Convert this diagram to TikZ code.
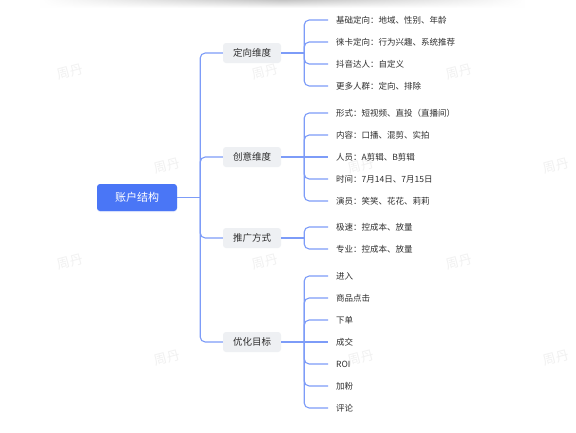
\documentclass[tikz,border=0pt]{standalone}
\usepackage{fontspec}
\newfontfamily\cjk{Noto Sans CJK SC}
\usetikzlibrary{shadows,fadings}
\definecolor{rootblue}{HTML}{4A76F6}
\definecolor{linkblue}{HTML}{7D9CF8}
\definecolor{boxgray}{HTML}{EEF0F3}
\definecolor{txt}{HTML}{2E2E2E}
\definecolor{wmgray}{HTML}{F1F1F1}
\tikzfading[name=fadelr, left color=transparent!100, right color=transparent!100, middle color=transparent!0]
\begin{document}
\begin{tikzpicture}[x=1pt,y=-1pt,
  rootbox/.style={rectangle, rounded corners=3pt, fill=rootblue, text=white,
    font=\cjk\fontsize{11}{13}\selectfont, minimum width=80pt, minimum height=27pt, inner sep=0pt,
    drop shadow={opacity=0.12, shadow xshift=0pt, shadow yshift=-1pt, fill=rootblue}},
  topicbox/.style={rectangle, rounded corners=3pt, fill=boxgray, text=txt,
    font=\cjk\fontsize{9.5}{11}\selectfont, minimum width=58pt, minimum height=20pt, inner sep=0pt},
  leaf/.style={anchor=west, inner xsep=8pt, inner ysep=0pt, text=txt,
    font=\cjk\fontsize{8.5}{10}\selectfont},
  link/.style={draw=linkblue, line width=1.1pt, rounded corners=5pt},
  wm/.style={text=wmgray, rotate=15, font=\cjk\fontsize{13}{15}\selectfont}]
\useasboundingbox (0,0) rectangle (576,432);
\fill[white] (0,0) rectangle (576,432);
\shade[top color=gray!45, bottom color=white, path fading=fadelr] (40,0) rectangle (525,8);

% watermarks
\node[wm] (wm1) at (70,72) {周丹};
\node[wm] (wm2) at (265,72) {周丹};
\node[wm] (wm3) at (459,72) {周丹};
\node[wm] (wm4) at (167,166) {周丹};
\node[wm] (wm5) at (361,166) {周丹};
\node[wm] (wm6) at (556,166) {周丹};
\node[wm] (wm7) at (70,262) {周丹};
\node[wm] (wm8) at (265,262) {周丹};
\node[wm] (wm9) at (459,262) {周丹};
\node[wm] (wm10) at (167,358) {周丹};
\node[wm] (wm11) at (361,358) {周丹};
\node[wm] (wm12) at (556,358) {周丹};

% root
\node[rootbox] (root) at (137,197.5) {账户结构};
\coordinate (jr) at ([xshift=23pt]root.east);

% level 1
\node[topicbox] (t1) at (252,53) {定向维度};
\node[topicbox] (t2) at (252,157) {创意维度};
\node[topicbox] (t3) at (252,238) {推广方式};
\node[topicbox] (t4) at (252,342) {优化目标};

\draw[link] (root.east) -- (jr);
\foreach \t in {t1,t2,t3,t4} \draw[link] (jr) |- (\t.west);

% leaves of t1
\node[leaf] (a1) at (328,20) {基础定向：地域、性别、年龄};
\node[leaf] (a2) at (328,42) {徕卡定向：行为兴趣、系统推荐};
\node[leaf] (a3) at (328,64) {抖音达人：自定义};
\node[leaf] (a4) at (328,86) {更多人群：定向、排除};
\coordinate (j1) at ([xshift=23pt]t1.east);
\draw[link] (t1.east) -- (j1);
\foreach \c in {a1,a2,a3,a4} \draw[link] (j1) |- (\c.west);

% leaves of t2
\node[leaf] (b1) at (328,113) {形式：短视频、直投（直播间）};
\node[leaf] (b2) at (328,135) {内容：口播、混剪、实拍};
\node[leaf] (b3) at (328,157) {人员：A剪辑、B剪辑};
\node[leaf] (b4) at (328,179) {时间：7月14日、7月15日};
\node[leaf] (b5) at (328,201) {演员：笑笑、花花、莉莉};
\coordinate (j2) at ([xshift=23pt]t2.east);
\draw[link] (t2.east) -- (j2) -- (b3.west);
\foreach \c in {b1,b2,b4,b5} \draw[link] (j2) |- (\c.west);

% leaves of t3
\node[leaf] (c1) at (328,227) {极速：控成本、放量};
\node[leaf] (c2) at (328,249) {专业：控成本、放量};
\coordinate (j3) at ([xshift=23pt]t3.east);
\draw[link] (t3.east) -- (j3);
\foreach \c in {c1,c2} \draw[link] (j3) |- (\c.west);

% leaves of t4
\node[leaf] (d1) at (328,276) {进入};
\node[leaf] (d2) at (328,298) {商品点击};
\node[leaf] (d3) at (328,320) {下单};
\node[leaf] (d4) at (328,342) {成交};
\node[leaf] (d5) at (328,364) {ROI};
\node[leaf] (d6) at (328,386) {加粉};
\node[leaf] (d7) at (328,408) {评论};
\coordinate (j4) at ([xshift=23pt]t4.east);
\draw[link] (t4.east) -- (j4) -- (d4.west);
\foreach \c in {d1,d2,d3,d5,d6,d7} \draw[link] (j4) |- (\c.west);
\end{tikzpicture}
\end{document}
